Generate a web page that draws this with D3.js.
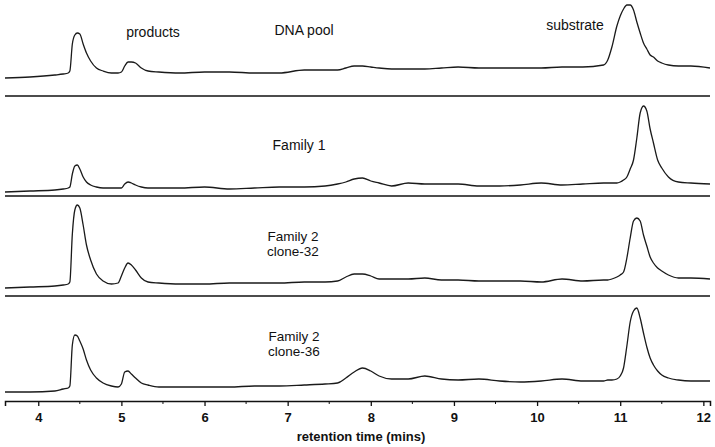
<!DOCTYPE html>
<html>
<head>
<meta charset="utf-8">
<title>HPLC traces</title>
<style>
  body { margin: 0; background: #fff; }
  text { font-family: "Liberation Sans", Arial, sans-serif; fill: #111; }
  .trace { fill: none; stroke: #1a1a1a; stroke-width: 1.3px; }
  .sep { stroke: #111; stroke-width: 1.5px; }
</style>
</head>
<body>
<div id="chart"></div>
<script src="https://d3js.org/d3.v7.min.js"></script>
<script>
// retention time grid (mins), shared by every trace
var times = [3.6, 3.9, 4.2, 4.3, 4.36, 4.38,
             4.41, 4.44, 4.47, 4.5, 4.54, 4.58, 4.63, 4.7, 4.78, 4.88,
             4.96, 5.0, 5.04, 5.08, 5.12, 5.17, 5.24, 5.32, 5.45,
             5.7, 6.0, 6.3, 6.6, 6.9, 7.2, 7.45, 7.6, 7.7, 7.8, 7.9, 8.0, 8.1,
             8.25, 8.45, 8.65, 8.85, 9.05, 9.3, 9.55, 9.8, 10.05, 10.3, 10.55, 10.8,
             10.85, 10.9, 10.96, 11.0, 11.04, 11.08, 11.12, 11.16, 11.2, 11.24,
             11.28, 11.32, 11.36, 11.4, 11.45, 11.5, 11.58, 11.7, 11.85, 12.08];

// detector signal (arbitrary units) for each sample
var dnaPool = [18, 19, 21, 22, 23, 25,
               52, 61, 63, 62, 52, 43, 35, 28, 25, 23,
               23, 24, 30, 34, 34, 33, 28, 25, 24,
               23, 24, 24, 23, 23, 26, 26, 26, 28, 30, 30, 29, 28,
               27, 27, 27, 28, 29, 28, 28, 28, 28, 29, 29, 31,
               36, 49, 70, 80, 87, 91, 91, 86, 74, 63,
               53, 47, 41, 39, 35, 33, 31, 30, 30, 28];
var family1 = [4, 5, 6, 7, 8, 9,
               22, 30, 31, 27, 19, 14, 11, 9, 8, 8,
               8, 8, 12, 14, 13, 11, 9, 8, 8,
               8, 9, 7, 8, 9, 9, 10, 12, 14, 17, 18, 15, 13,
               10, 13, 12, 12, 12, 10, 10, 11, 13, 11, 12, 13,
               13, 13, 13, 14, 16, 19, 27, 36, 58, 83,
               90, 85, 67, 53, 36, 28, 19, 14, 13, 12];
var clone32 = [8, 9, 10, 11, 12, 14,
               62, 86, 91, 88, 71, 51, 36, 22, 15, 12,
               13, 20, 28, 33, 31, 26, 18, 14, 13,
               12, 12, 13, 13, 13, 14, 14, 15, 19, 22, 22, 20, 17,
               17, 17, 18, 16, 16, 15, 15, 15, 14, 17, 15, 16,
               16, 17, 19, 21, 24, 38, 58, 75, 78, 75,
               61, 50, 39, 33, 28, 25, 21, 18, 18, 17];
var clone36 = [9, 9, 10, 12, 13, 15,
               56, 66, 65, 60, 52, 41, 31, 23, 18, 15,
               14, 17, 29, 30, 27, 23, 18, 16, 14,
               14, 14, 14, 15, 15, 16, 17, 18, 23, 29, 33, 30, 25,
               22, 22, 25, 22, 21, 22, 20, 19, 20, 22, 20, 20,
               21, 21, 22, 25, 33, 55, 79, 90, 93, 83,
               68, 54, 43, 36, 30, 26, 23, 21, 20, 20];

var series = [dnaPool, family1, clone32, clone36];
var panelNames = [["DNA pool"], ["Family 1"], ["Family 2", "clone-32"], ["Family 2", "clone-36"]];
var annotations = ["products", "substrate"];
var xTicks = [4, 5, 6, 7, 8, 9, 10, 11, 12];
var xMinorTicks = [4.5, 5.5, 6.5, 7.5, 8.5, 9.5, 10.5, 11.5];
var xTitle = "retention time (mins)";

// layout
var width = 715, height = 447;
var panelBottoms = [96, 196, 296, 401];
var labelPos = [[304, 35], [299, 150], [293, 241], [294, 341]];
var annotPos = [[153, 37], [575, 30]];
var lineGap = 15;

var svg = d3.select("#chart").append("svg")
    .attr("width", width)
    .attr("height", height);

var x = d3.scaleLinear()
    .domain([3.6, 12.08])
    .range([5, 710]);

var y = d3.scaleLinear()
    .domain([0, 100])
    .range([100, 0]);

var line = d3.line()
    .x(function(d, i) { return x(times[i]); })
    .y(function(d) { return y(d); })
    .curve(d3.curveMonotoneX);

series.forEach(function(values, k) {
  var g = svg.append("g")
      .attr("transform", "translate(0," + (panelBottoms[k] - 100) + ")");
  g.append("path")
      .datum(values)
      .attr("class", "trace")
      .attr("d", line);

  // panel name, one text per line
  panelNames[k].forEach(function(s, j) {
    svg.append("text")
        .attr("text-anchor", "middle")
        .attr("font-size", panelNames[k].length > 1 ? 13.5 : 14)
        .attr("x", labelPos[k][0])
        .attr("y", labelPos[k][1] + j * lineGap)
        .text(s);
  });

  // separator under the first three panels
  if (k < 3) {
    svg.append("line")
        .attr("class", "sep")
        .attr("x1", x.range()[0]).attr("x2", x.range()[1])
        .attr("y1", panelBottoms[k]).attr("y2", panelBottoms[k]);
  }
});

annotations.forEach(function(s, i) {
  svg.append("text")
      .attr("text-anchor", "middle")
      .attr("font-size", 14)
      .attr("x", annotPos[i][0])
      .attr("y", annotPos[i][1])
      .text(s);
});

// x axis
var axisY = panelBottoms[3];
var axis = svg.append("g").attr("transform", "translate(0," + axisY + ")");
axis.call(d3.axisBottom(x).tickValues(xTicks).tickSize(5).tickPadding(7).tickFormat(d3.format("d")));
axis.select(".domain").attr("stroke", "#111").attr("stroke-width", 1.5);
axis.selectAll(".tick line").attr("stroke", "#111").attr("stroke-width", 1.3);
axis.selectAll(".tick text")
    .attr("font-size", 13)
    .attr("font-weight", "bold")
    .attr("font-family", "'Liberation Sans', Arial, sans-serif")
    .attr("fill", "#111");
axis.selectAll(".minor")
    .data(xMinorTicks)
    .enter()
    .append("line")
      .attr("class", "minor")
      .attr("stroke", "#111")
      .attr("x1", function(d) { return x(d); })
      .attr("x2", function(d) { return x(d); })
      .attr("y1", 0)
      .attr("y2", 3);

svg.append("text")
    .attr("text-anchor", "middle")
    .attr("font-size", 13)
    .attr("font-weight", "bold")
    .attr("x", 361)
    .attr("y", 441)
    .text(xTitle);
</script>
</body>
</html>
